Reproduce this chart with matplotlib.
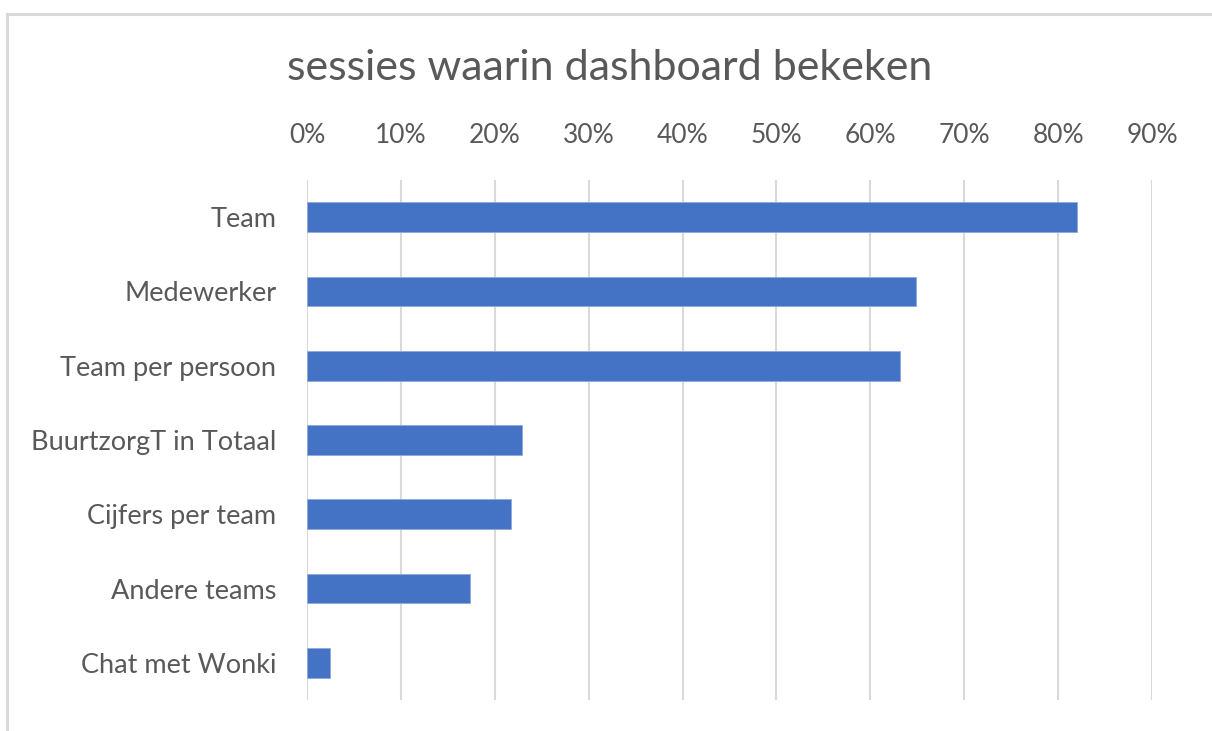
import matplotlib
matplotlib.use("Agg")
import matplotlib.pyplot as plt
from matplotlib.lines import Line2D
from matplotlib.ticker import FuncFormatter

# data (fraction of sessions)
categories = [
    "Team",
    "Medewerker",
    "Team per persoon",
    "BuurtzorgT in Totaal",
    "Cijfers per team",
    "Andere teams",
    "Chat met Wonki",
]
shares = [0.820, 0.649, 0.632, 0.229, 0.217, 0.174, 0.024]
x_ticks = [i / 10 for i in range(10)]

text_color = "#595959"
bar_color = "#4472C4"
grid_color = "#d9d9d9"

plt.rcParams["font.family"] = ["Lato", "DejaVu Sans"]

fig = plt.figure(figsize=(12.12, 7.31), dpi=100)
ax = fig.add_axes([307 / 1212, 1 - 700 / 731, (1152 - 307) / 1212, (700 - 180) / 731])

positions = list(range(len(categories)))
ax.barh(positions, shares, height=0.4, color=bar_color,
        edgecolor="#8faadc", linewidth=0.6, zorder=3)

ax.set_xlim(0, 0.9)
ax.set_ylim(len(categories) - 0.5, -0.5)
ax.set_xticks(x_ticks)
ax.xaxis.set_major_formatter(FuncFormatter(lambda v, _: f"{v * 100:.0f}%"))
ax.xaxis.tick_top()
ax.tick_params(axis="x", length=0, pad=23, labelsize=19, labelcolor=text_color)
ax.set_yticks(positions)
ax.set_yticklabels(categories)
ax.tick_params(axis="y", length=0, pad=22, labelsize=19.5, labelcolor=text_color)

ax.grid(axis="x", color=grid_color, linewidth=1.5, zorder=0)
for side in ax.spines.values():
    side.set_visible(False)

fig.text(610 / 1212, 1 - 68 / 731, "sessies waarin dashboard bekeken",
         ha="center", va="center", fontsize=31, color=text_color)

# light frame of the chart area (only left and top edge visible)
fig.add_artist(Line2D([7 / 1212, 7 / 1212], [0, 1 - 14 / 731],
                      color=grid_color, linewidth=2.2, transform=fig.transFigure))
fig.add_artist(Line2D([7 / 1212, 1], [1 - 14 / 731, 1 - 14 / 731],
                      color=grid_color, linewidth=2.2, transform=fig.transFigure))

fig.savefig("out.png", dpi=100, facecolor="white")
